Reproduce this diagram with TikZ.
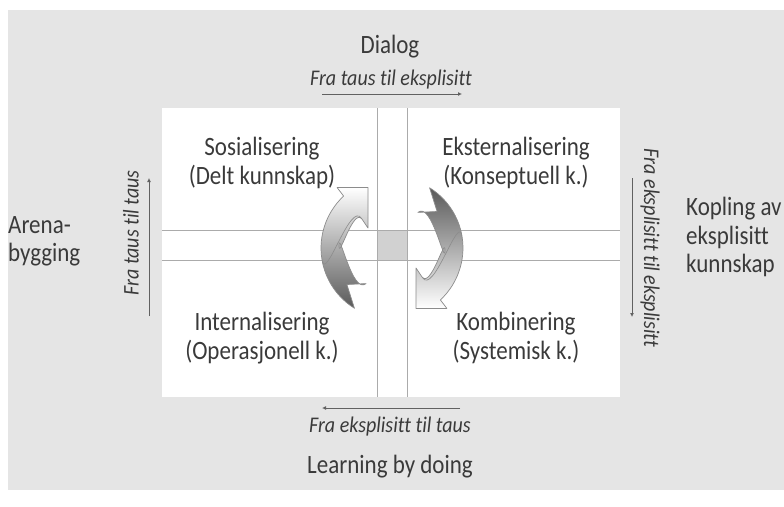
\documentclass[tikz,border=0pt]{standalone}
\usepackage{fontspec}
\setmainfont[Ligatures={NoCommon}]{Carlito}
\usetikzlibrary{arrows.meta}
\definecolor{bggray}{HTML}{E5E5E5}
\definecolor{gridgray}{HTML}{ABABAB}
\definecolor{txtgray}{HTML}{3A3A3A}
\definecolor{edgegray}{HTML}{8C8C8C}
\tikzset{
  maintext/.style={text=txtgray, font=\fontsize{23}{24.5}\selectfont, inner sep=0pt, yscale=1.15},
  quadtext/.style={maintext, align=center},
  sidefont/.style={text=txtgray, font=\fontsize{20}{22}\selectfont\itshape, inner sep=0pt},
  sidetext/.style={sidefont, yscale=1.12},
  flowarrow/.style={draw=txtgray!80, line width=0.8pt, -{Latex[length=4pt,width=4pt]}},
  gridline/.style={draw=gridgray, line width=0.8pt},
  cyclearrow/.style={draw=edgegray, line width=0.7pt, line join=round},
  foldline/.style={draw=edgegray, line width=0.6pt}
}
\begin{document}
\begin{tikzpicture}[x=1pt, y=-1pt]
  \useasboundingbox (0,0) rectangle (784,506);
  % page and grey panel
  \fill[white] (0,0) rectangle (784,506);
  \fill[bggray] (8,10) rectangle (784,490);

  % white field with the two cross bands
  \fill[white] (162,108) rectangle (620,397);
  \fill[gridgray!55] (377,230) rectangle (407,260);
  \draw[gridline] (377,108) -- (377,397);
  \draw[gridline] (407,108) -- (407,397);
  \draw[gridline] (162,230) -- (620,230);
  \draw[gridline] (162,260) -- (620,260);

  % quadrant labels
  \node[quadtext] (sos) at (262,163) {Sosialisering\\(Delt kunnskap)};
  \node[quadtext] (eks) at (516,163) {Eksternalisering\\(Konseptuell k.)};
  \node[quadtext] (int) at (262,338) {Internalisering\\(Operasjonell k.)};
  \node[quadtext] (kom) at (516,338) {Kombinering\\(Systemisk k.)};

  % outer labels
  \node[maintext] (dialog) at (390,47) {Dialog};
  \node[maintext] (lbd) at (390,467) {Learning by doing};
  \node[maintext, align=left, anchor=west] (arena) at (8,241) {Arena-\\bygging};
  \node[maintext, align=left, anchor=west] (kopling) at (686,237) {Kopling av\\eksplisitt\\kunnskap};

  % direction labels and their arrows
  \node[sidetext] (ftte) at (391,80) {Fra taus til eksplisitt};
  \node[sidetext] (fett) at (390,427) {Fra eksplisitt til taus};
  \node[sidefont, rotate=90, yscale=1.12] (fttt) at (131,233) {Fra taus til taus};
  \node[sidefont, rotate=-90, yscale=1.12] (fete) at (650,248) {Fra eksplisitt til eksplisitt};

  \coordinate (ta) at (322,94);  \coordinate (tb) at (462,94);
  \coordinate (ba) at (460,408); \coordinate (bb) at (322,408);
  \coordinate (la) at (149,316); \coordinate (lb) at (149,178);
  \coordinate (ra) at (632,178); \coordinate (rb) at (632,317);
  \draw[flowarrow] (ta) -- (tb);
  \draw[flowarrow] (ba) -- (bb);
  \draw[flowarrow] (la) -- (lb);
  \draw[flowarrow] (ra) -- (rb);

  % the two curved block arrows, local frame with y up
  \begin{scope}[shift={(392,248)}, yscale=-1]
    % right arrow: tail at the top, head at the bottom
    \shade[cyclearrow, top color=black!65, middle color=black!30, bottom color=white]
      (37.6,60.2) -- (45.1,36.5) -- (25.9,35.6)
      to[out=-40,in=90] (53,-2) to[out=-90,in=50] (30.2,-29.2)
      -- (24,-20) -- (24,-60.5) -- (54.9,-60.5) -- (48.4,-51.9)
      arc[start angle=-47, end angle=58, radius=71] -- cycle;
    \draw[foldline] (30.2,-29.2) to[out=60,in=-100] (69.9,12.3);
    % left arrow: tail at the bottom, head at the top
    \shade[cyclearrow, top color=white, middle color=black!30, bottom color=black!65]
      (-37.6,-60.2) -- (-45.1,-36.5) -- (-25.9,-35.6)
      to[out=140,in=-90] (-53,2) to[out=90,in=-130] (-30.2,29.2)
      -- (-24,20) -- (-24,60.5) -- (-54.9,60.5) -- (-48.4,51.9)
      arc[start angle=133, end angle=238, radius=71] -- cycle;
    \draw[foldline] (-30.2,29.2) to[out=240,in=80] (-69.9,-12.3);
  \end{scope}
\end{tikzpicture}
\end{document}
